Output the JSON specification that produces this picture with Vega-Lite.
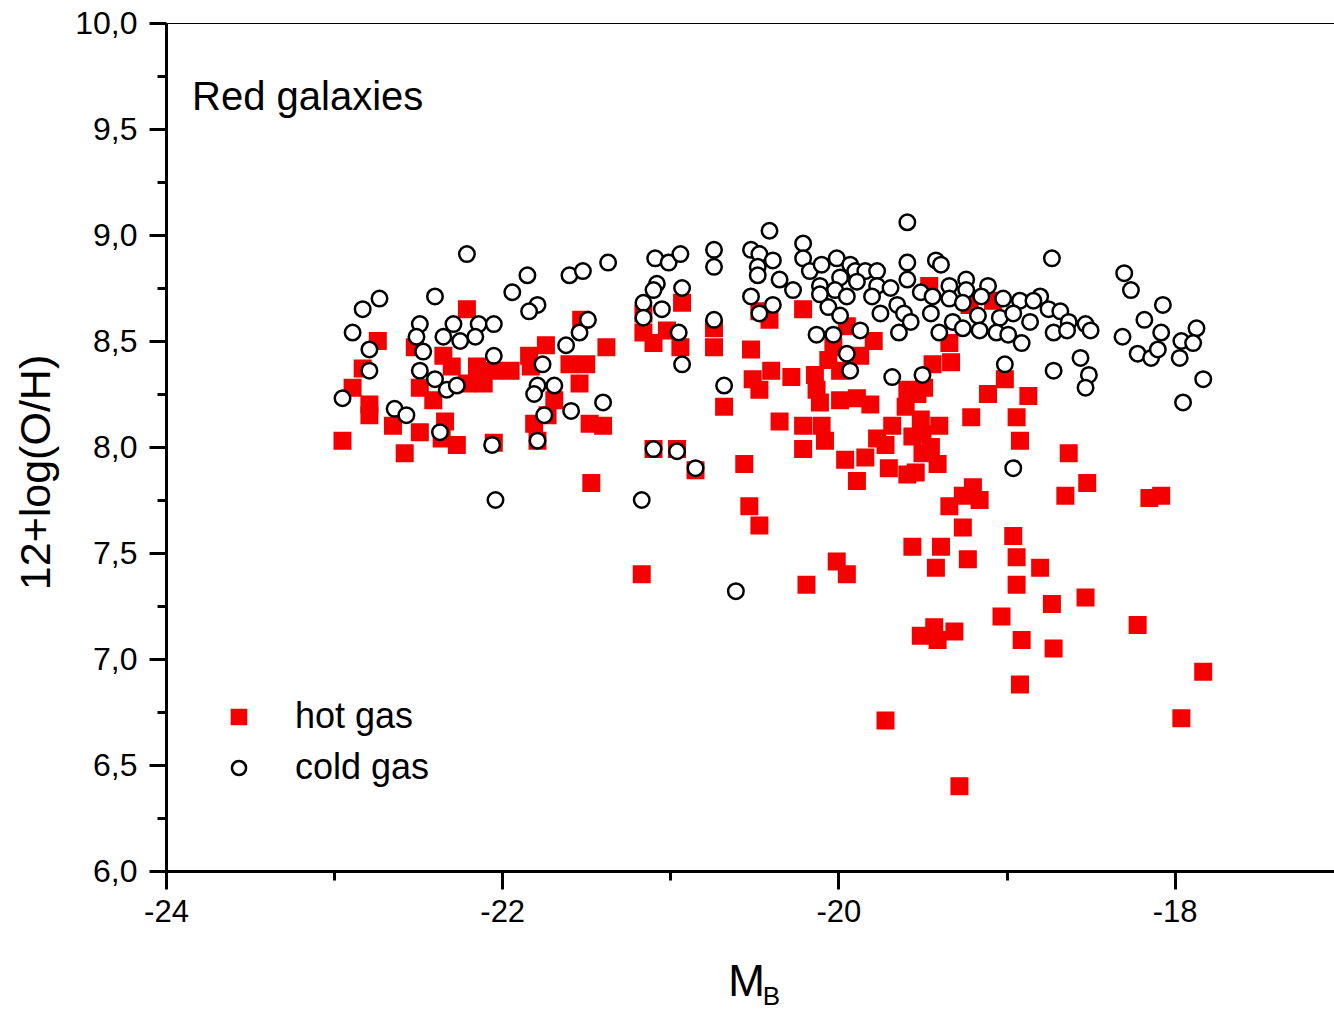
{
  "$schema": "https://vega.github.io/schema/vega-lite/v6.json",
  "width": 1168,
  "height": 848,
  "autosize": {"type": "none"},
  "padding": {"left": 166, "top": 23, "right": 0, "bottom": 140},
  "background": "white",
  "config": {
    "view": {"stroke": null},
    "font": "Liberation Sans",
    "axis": {
      "grid": false,
      "labelFont": "Liberation Sans",
      "titleFont": "Liberation Sans",
      "labelColor": "#000000",
      "titleColor": "#000000",
      "domainColor": "#000000",
      "tickColor": "#000000",
      "titleFontWeight": "normal",
      "labelFlush": false,
      "labelOverlap": false
    },
    "legend": {
      "labelFont": "Liberation Sans",
      "labelFontSize": 36,
      "labelColor": "#000000",
      "symbolSize": 200,
      "symbolStrokeWidth": 2.5,
      "rowPadding": 15,
      "labelOffset": 38,
      "padding": 0
    }
  },
  "layer": [
    {
      "data": {
        "values": [
          {"gas": "hot gas", "MB": -22.95, "OH": 8.03},
          {"gas": "hot gas", "MB": -22.89, "OH": 8.28},
          {"gas": "hot gas", "MB": -22.83, "OH": 8.37},
          {"gas": "hot gas", "MB": -22.74, "OH": 8.50},
          {"gas": "hot gas", "MB": -22.79, "OH": 8.20},
          {"gas": "hot gas", "MB": -22.79, "OH": 8.15},
          {"gas": "hot gas", "MB": -22.65, "OH": 8.10},
          {"gas": "hot gas", "MB": -22.58, "OH": 7.97},
          {"gas": "hot gas", "MB": -22.52, "OH": 8.47},
          {"gas": "hot gas", "MB": -22.49, "OH": 8.28},
          {"gas": "hot gas", "MB": -22.49, "OH": 8.07},
          {"gas": "hot gas", "MB": -22.41, "OH": 8.22},
          {"gas": "hot gas", "MB": -22.35, "OH": 8.43},
          {"gas": "hot gas", "MB": -22.30, "OH": 8.38},
          {"gas": "hot gas", "MB": -22.34, "OH": 8.12},
          {"gas": "hot gas", "MB": -22.27, "OH": 8.01},
          {"gas": "hot gas", "MB": -22.36, "OH": 8.04},
          {"gas": "hot gas", "MB": -22.21, "OH": 8.65},
          {"gas": "hot gas", "MB": -22.15, "OH": 8.38},
          {"gas": "hot gas", "MB": -22.11, "OH": 8.30},
          {"gas": "hot gas", "MB": -22.21, "OH": 8.30},
          {"gas": "hot gas", "MB": -22.05, "OH": 8.36},
          {"gas": "hot gas", "MB": -21.95, "OH": 8.36},
          {"gas": "hot gas", "MB": -22.05, "OH": 8.02},
          {"gas": "hot gas", "MB": -21.84, "OH": 8.43},
          {"gas": "hot gas", "MB": -21.81, "OH": 8.11},
          {"gas": "hot gas", "MB": -21.79, "OH": 8.03},
          {"gas": "hot gas", "MB": -21.83, "OH": 8.38},
          {"gas": "hot gas", "MB": -21.74, "OH": 8.48},
          {"gas": "hot gas", "MB": -21.53, "OH": 8.60},
          {"gas": "hot gas", "MB": -21.38, "OH": 8.47},
          {"gas": "hot gas", "MB": -21.60, "OH": 8.39},
          {"gas": "hot gas", "MB": -21.50, "OH": 8.39},
          {"gas": "hot gas", "MB": -21.54, "OH": 8.30},
          {"gas": "hot gas", "MB": -21.69, "OH": 8.22},
          {"gas": "hot gas", "MB": -21.73, "OH": 8.15},
          {"gas": "hot gas", "MB": -21.48, "OH": 8.11},
          {"gas": "hot gas", "MB": -21.40, "OH": 8.10},
          {"gas": "hot gas", "MB": -21.47, "OH": 7.83},
          {"gas": "hot gas", "MB": -21.16, "OH": 8.63},
          {"gas": "hot gas", "MB": -21.16, "OH": 8.54},
          {"gas": "hot gas", "MB": -21.10, "OH": 8.49},
          {"gas": "hot gas", "MB": -21.02, "OH": 8.55},
          {"gas": "hot gas", "MB": -20.93, "OH": 8.68},
          {"gas": "hot gas", "MB": -20.94, "OH": 8.47},
          {"gas": "hot gas", "MB": -20.74, "OH": 8.56},
          {"gas": "hot gas", "MB": -20.74, "OH": 8.47},
          {"gas": "hot gas", "MB": -21.10, "OH": 7.99},
          {"gas": "hot gas", "MB": -20.96, "OH": 7.99},
          {"gas": "hot gas", "MB": -20.85, "OH": 7.89},
          {"gas": "hot gas", "MB": -20.52, "OH": 8.46},
          {"gas": "hot gas", "MB": -20.51, "OH": 8.32},
          {"gas": "hot gas", "MB": -20.47, "OH": 8.27},
          {"gas": "hot gas", "MB": -20.68, "OH": 8.19},
          {"gas": "hot gas", "MB": -20.56, "OH": 7.92},
          {"gas": "hot gas", "MB": -20.47, "OH": 8.64},
          {"gas": "hot gas", "MB": -20.41, "OH": 8.60},
          {"gas": "hot gas", "MB": -21.17, "OH": 7.40},
          {"gas": "hot gas", "MB": -20.53, "OH": 7.72},
          {"gas": "hot gas", "MB": -20.47, "OH": 7.63},
          {"gas": "hot gas", "MB": -20.21, "OH": 8.65},
          {"gas": "hot gas", "MB": -20.40, "OH": 8.36},
          {"gas": "hot gas", "MB": -20.28, "OH": 8.33},
          {"gas": "hot gas", "MB": -20.14, "OH": 8.34},
          {"gas": "hot gas", "MB": -20.13, "OH": 8.27},
          {"gas": "hot gas", "MB": -20.11, "OH": 8.21},
          {"gas": "hot gas", "MB": -20.06, "OH": 8.41},
          {"gas": "hot gas", "MB": -19.99, "OH": 8.36},
          {"gas": "hot gas", "MB": -20.03, "OH": 8.47},
          {"gas": "hot gas", "MB": -19.95, "OH": 8.57},
          {"gas": "hot gas", "MB": -19.79, "OH": 8.50},
          {"gas": "hot gas", "MB": -19.87, "OH": 8.43},
          {"gas": "hot gas", "MB": -19.99, "OH": 8.22},
          {"gas": "hot gas", "MB": -19.89, "OH": 8.23},
          {"gas": "hot gas", "MB": -19.81, "OH": 8.20},
          {"gas": "hot gas", "MB": -20.35, "OH": 8.12},
          {"gas": "hot gas", "MB": -20.21, "OH": 8.10},
          {"gas": "hot gas", "MB": -20.10, "OH": 8.10},
          {"gas": "hot gas", "MB": -20.08, "OH": 8.03},
          {"gas": "hot gas", "MB": -20.21, "OH": 7.99},
          {"gas": "hot gas", "MB": -19.60, "OH": 8.19},
          {"gas": "hot gas", "MB": -19.59, "OH": 8.27},
          {"gas": "hot gas", "MB": -19.53, "OH": 8.25},
          {"gas": "hot gas", "MB": -19.44, "OH": 8.39},
          {"gas": "hot gas", "MB": -19.46, "OH": 8.76},
          {"gas": "hot gas", "MB": -19.34, "OH": 8.49},
          {"gas": "hot gas", "MB": -19.33, "OH": 8.40},
          {"gas": "hot gas", "MB": -19.01, "OH": 8.32},
          {"gas": "hot gas", "MB": -19.11, "OH": 8.25},
          {"gas": "hot gas", "MB": -18.87, "OH": 8.24},
          {"gas": "hot gas", "MB": -19.21, "OH": 8.14},
          {"gas": "hot gas", "MB": -18.94, "OH": 8.14},
          {"gas": "hot gas", "MB": -18.92, "OH": 8.03},
          {"gas": "hot gas", "MB": -19.49, "OH": 8.28},
          {"gas": "hot gas", "MB": -19.22, "OH": 8.67},
          {"gas": "hot gas", "MB": -19.08, "OH": 8.69},
          {"gas": "hot gas", "MB": -19.68, "OH": 8.10},
          {"gas": "hot gas", "MB": -19.77, "OH": 8.04},
          {"gas": "hot gas", "MB": -19.72, "OH": 8.01},
          {"gas": "hot gas", "MB": -19.84, "OH": 7.95},
          {"gas": "hot gas", "MB": -19.96, "OH": 7.94},
          {"gas": "hot gas", "MB": -19.89, "OH": 7.84},
          {"gas": "hot gas", "MB": -19.70, "OH": 7.90},
          {"gas": "hot gas", "MB": -19.59, "OH": 7.87},
          {"gas": "hot gas", "MB": -19.54, "OH": 7.88},
          {"gas": "hot gas", "MB": -19.56, "OH": 8.05},
          {"gas": "hot gas", "MB": -19.50, "OH": 8.06},
          {"gas": "hot gas", "MB": -19.45, "OH": 8.00},
          {"gas": "hot gas", "MB": -19.40, "OH": 8.10},
          {"gas": "hot gas", "MB": -19.50, "OH": 7.97},
          {"gas": "hot gas", "MB": -19.41, "OH": 7.92},
          {"gas": "hot gas", "MB": -19.51, "OH": 8.13},
          {"gas": "hot gas", "MB": -18.63, "OH": 7.97},
          {"gas": "hot gas", "MB": -18.52, "OH": 7.83},
          {"gas": "hot gas", "MB": -18.65, "OH": 7.77},
          {"gas": "hot gas", "MB": -19.20, "OH": 7.81},
          {"gas": "hot gas", "MB": -19.26, "OH": 7.77},
          {"gas": "hot gas", "MB": -19.16, "OH": 7.75},
          {"gas": "hot gas", "MB": -19.34, "OH": 7.72},
          {"gas": "hot gas", "MB": -19.26, "OH": 7.62},
          {"gas": "hot gas", "MB": -19.56, "OH": 7.53},
          {"gas": "hot gas", "MB": -19.39, "OH": 7.53},
          {"gas": "hot gas", "MB": -19.23, "OH": 7.47},
          {"gas": "hot gas", "MB": -19.42, "OH": 7.43},
          {"gas": "hot gas", "MB": -18.96, "OH": 7.58},
          {"gas": "hot gas", "MB": -18.94, "OH": 7.48},
          {"gas": "hot gas", "MB": -18.80, "OH": 7.43},
          {"gas": "hot gas", "MB": -18.94, "OH": 7.35},
          {"gas": "hot gas", "MB": -20.01, "OH": 7.46},
          {"gas": "hot gas", "MB": -19.95, "OH": 7.40},
          {"gas": "hot gas", "MB": -20.19, "OH": 7.35},
          {"gas": "hot gas", "MB": -18.73, "OH": 7.26},
          {"gas": "hot gas", "MB": -18.53, "OH": 7.29},
          {"gas": "hot gas", "MB": -19.03, "OH": 7.20},
          {"gas": "hot gas", "MB": -19.51, "OH": 7.11},
          {"gas": "hot gas", "MB": -19.43, "OH": 7.15},
          {"gas": "hot gas", "MB": -19.41, "OH": 7.09},
          {"gas": "hot gas", "MB": -19.31, "OH": 7.13},
          {"gas": "hot gas", "MB": -18.91, "OH": 7.09},
          {"gas": "hot gas", "MB": -18.72, "OH": 7.05},
          {"gas": "hot gas", "MB": -18.92, "OH": 6.88},
          {"gas": "hot gas", "MB": -19.72, "OH": 6.71},
          {"gas": "hot gas", "MB": -19.28, "OH": 6.40},
          {"gas": "hot gas", "MB": -18.15, "OH": 7.76},
          {"gas": "hot gas", "MB": -18.08, "OH": 7.77},
          {"gas": "hot gas", "MB": -18.22, "OH": 7.16},
          {"gas": "hot gas", "MB": -17.83, "OH": 6.94},
          {"gas": "hot gas", "MB": -17.96, "OH": 6.72},
          {"gas": "cold gas", "MB": -22.21, "OH": 8.91},
          {"gas": "cold gas", "MB": -21.85, "OH": 8.81},
          {"gas": "cold gas", "MB": -21.94, "OH": 8.73},
          {"gas": "cold gas", "MB": -21.79, "OH": 8.67},
          {"gas": "cold gas", "MB": -21.84, "OH": 8.64},
          {"gas": "cold gas", "MB": -22.73, "OH": 8.70},
          {"gas": "cold gas", "MB": -22.83, "OH": 8.65},
          {"gas": "cold gas", "MB": -22.40, "OH": 8.71},
          {"gas": "cold gas", "MB": -22.89, "OH": 8.54},
          {"gas": "cold gas", "MB": -22.79, "OH": 8.46},
          {"gas": "cold gas", "MB": -22.79, "OH": 8.36},
          {"gas": "cold gas", "MB": -22.95, "OH": 8.23},
          {"gas": "cold gas", "MB": -22.49, "OH": 8.58},
          {"gas": "cold gas", "MB": -22.51, "OH": 8.52},
          {"gas": "cold gas", "MB": -22.29, "OH": 8.58},
          {"gas": "cold gas", "MB": -22.14, "OH": 8.58},
          {"gas": "cold gas", "MB": -22.05, "OH": 8.58},
          {"gas": "cold gas", "MB": -22.35, "OH": 8.52},
          {"gas": "cold gas", "MB": -22.25, "OH": 8.50},
          {"gas": "cold gas", "MB": -22.16, "OH": 8.52},
          {"gas": "cold gas", "MB": -22.47, "OH": 8.45},
          {"gas": "cold gas", "MB": -22.49, "OH": 8.36},
          {"gas": "cold gas", "MB": -22.40, "OH": 8.32},
          {"gas": "cold gas", "MB": -22.33, "OH": 8.27},
          {"gas": "cold gas", "MB": -22.27, "OH": 8.29},
          {"gas": "cold gas", "MB": -22.05, "OH": 8.43},
          {"gas": "cold gas", "MB": -21.76, "OH": 8.39},
          {"gas": "cold gas", "MB": -21.79, "OH": 8.29},
          {"gas": "cold gas", "MB": -21.81, "OH": 8.25},
          {"gas": "cold gas", "MB": -22.64, "OH": 8.18},
          {"gas": "cold gas", "MB": -22.57, "OH": 8.15},
          {"gas": "cold gas", "MB": -22.37, "OH": 8.07},
          {"gas": "cold gas", "MB": -22.06, "OH": 8.01},
          {"gas": "cold gas", "MB": -21.79, "OH": 8.03},
          {"gas": "cold gas", "MB": -21.75, "OH": 8.15},
          {"gas": "cold gas", "MB": -22.04, "OH": 7.75},
          {"gas": "cold gas", "MB": -21.69, "OH": 8.29},
          {"gas": "cold gas", "MB": -21.62, "OH": 8.48},
          {"gas": "cold gas", "MB": -21.54, "OH": 8.54},
          {"gas": "cold gas", "MB": -21.49, "OH": 8.60},
          {"gas": "cold gas", "MB": -21.59, "OH": 8.17},
          {"gas": "cold gas", "MB": -21.40, "OH": 8.21},
          {"gas": "cold gas", "MB": -21.60, "OH": 8.81},
          {"gas": "cold gas", "MB": -21.52, "OH": 8.83},
          {"gas": "cold gas", "MB": -21.37, "OH": 8.87},
          {"gas": "cold gas", "MB": -21.09, "OH": 8.89},
          {"gas": "cold gas", "MB": -21.01, "OH": 8.87},
          {"gas": "cold gas", "MB": -20.94, "OH": 8.91},
          {"gas": "cold gas", "MB": -20.74, "OH": 8.93},
          {"gas": "cold gas", "MB": -20.74, "OH": 8.85},
          {"gas": "cold gas", "MB": -21.08, "OH": 8.77},
          {"gas": "cold gas", "MB": -21.10, "OH": 8.74},
          {"gas": "cold gas", "MB": -21.16, "OH": 8.68},
          {"gas": "cold gas", "MB": -21.05, "OH": 8.65},
          {"gas": "cold gas", "MB": -21.16, "OH": 8.61},
          {"gas": "cold gas", "MB": -20.93, "OH": 8.75},
          {"gas": "cold gas", "MB": -20.95, "OH": 8.54},
          {"gas": "cold gas", "MB": -20.93, "OH": 8.39},
          {"gas": "cold gas", "MB": -20.74, "OH": 8.60},
          {"gas": "cold gas", "MB": -20.68, "OH": 8.29},
          {"gas": "cold gas", "MB": -21.10, "OH": 7.99},
          {"gas": "cold gas", "MB": -20.96, "OH": 7.98},
          {"gas": "cold gas", "MB": -20.85, "OH": 7.90},
          {"gas": "cold gas", "MB": -21.17, "OH": 7.75},
          {"gas": "cold gas", "MB": -20.61, "OH": 7.32},
          {"gas": "cold gas", "MB": -20.41, "OH": 9.02},
          {"gas": "cold gas", "MB": -19.59, "OH": 9.06},
          {"gas": "cold gas", "MB": -20.52, "OH": 8.93},
          {"gas": "cold gas", "MB": -20.47, "OH": 8.91},
          {"gas": "cold gas", "MB": -20.39, "OH": 8.88},
          {"gas": "cold gas", "MB": -20.48, "OH": 8.85},
          {"gas": "cold gas", "MB": -20.48, "OH": 8.81},
          {"gas": "cold gas", "MB": -20.21, "OH": 8.96},
          {"gas": "cold gas", "MB": -20.21, "OH": 8.89},
          {"gas": "cold gas", "MB": -20.17, "OH": 8.83},
          {"gas": "cold gas", "MB": -20.10, "OH": 8.86},
          {"gas": "cold gas", "MB": -20.01, "OH": 8.89},
          {"gas": "cold gas", "MB": -19.93, "OH": 8.86},
          {"gas": "cold gas", "MB": -19.99, "OH": 8.80},
          {"gas": "cold gas", "MB": -19.90, "OH": 8.83},
          {"gas": "cold gas", "MB": -19.84, "OH": 8.83},
          {"gas": "cold gas", "MB": -19.77, "OH": 8.83},
          {"gas": "cold gas", "MB": -20.35, "OH": 8.79},
          {"gas": "cold gas", "MB": -20.27, "OH": 8.74},
          {"gas": "cold gas", "MB": -20.11, "OH": 8.76},
          {"gas": "cold gas", "MB": -20.02, "OH": 8.74},
          {"gas": "cold gas", "MB": -19.89, "OH": 8.78},
          {"gas": "cold gas", "MB": -19.77, "OH": 8.76},
          {"gas": "cold gas", "MB": -19.69, "OH": 8.75},
          {"gas": "cold gas", "MB": -19.59, "OH": 8.87},
          {"gas": "cold gas", "MB": -19.59, "OH": 8.79},
          {"gas": "cold gas", "MB": -19.51, "OH": 8.73},
          {"gas": "cold gas", "MB": -20.52, "OH": 8.71},
          {"gas": "cold gas", "MB": -20.39, "OH": 8.67},
          {"gas": "cold gas", "MB": -20.47, "OH": 8.63},
          {"gas": "cold gas", "MB": -20.11, "OH": 8.72},
          {"gas": "cold gas", "MB": -19.95, "OH": 8.71},
          {"gas": "cold gas", "MB": -19.80, "OH": 8.71},
          {"gas": "cold gas", "MB": -20.06, "OH": 8.66},
          {"gas": "cold gas", "MB": -19.99, "OH": 8.62},
          {"gas": "cold gas", "MB": -19.75, "OH": 8.63},
          {"gas": "cold gas", "MB": -19.65, "OH": 8.67},
          {"gas": "cold gas", "MB": -19.61, "OH": 8.63},
          {"gas": "cold gas", "MB": -19.57, "OH": 8.59},
          {"gas": "cold gas", "MB": -19.64, "OH": 8.54},
          {"gas": "cold gas", "MB": -20.13, "OH": 8.53},
          {"gas": "cold gas", "MB": -20.03, "OH": 8.53},
          {"gas": "cold gas", "MB": -19.87, "OH": 8.55},
          {"gas": "cold gas", "MB": -19.95, "OH": 8.44},
          {"gas": "cold gas", "MB": -19.93, "OH": 8.36},
          {"gas": "cold gas", "MB": -19.68, "OH": 8.33},
          {"gas": "cold gas", "MB": -19.50, "OH": 8.34},
          {"gas": "cold gas", "MB": -19.42, "OH": 8.88},
          {"gas": "cold gas", "MB": -19.39, "OH": 8.86},
          {"gas": "cold gas", "MB": -18.73, "OH": 8.89},
          {"gas": "cold gas", "MB": -19.34, "OH": 8.76},
          {"gas": "cold gas", "MB": -19.24, "OH": 8.79},
          {"gas": "cold gas", "MB": -19.24, "OH": 8.74},
          {"gas": "cold gas", "MB": -19.11, "OH": 8.76},
          {"gas": "cold gas", "MB": -19.44, "OH": 8.71},
          {"gas": "cold gas", "MB": -19.34, "OH": 8.70},
          {"gas": "cold gas", "MB": -19.15, "OH": 8.71},
          {"gas": "cold gas", "MB": -19.02, "OH": 8.70},
          {"gas": "cold gas", "MB": -18.92, "OH": 8.69},
          {"gas": "cold gas", "MB": -18.80, "OH": 8.71},
          {"gas": "cold gas", "MB": -18.84, "OH": 8.69},
          {"gas": "cold gas", "MB": -19.45, "OH": 8.63},
          {"gas": "cold gas", "MB": -19.32, "OH": 8.59},
          {"gas": "cold gas", "MB": -19.26, "OH": 8.68},
          {"gas": "cold gas", "MB": -19.17, "OH": 8.62},
          {"gas": "cold gas", "MB": -19.04, "OH": 8.61},
          {"gas": "cold gas", "MB": -18.96, "OH": 8.63},
          {"gas": "cold gas", "MB": -18.86, "OH": 8.59},
          {"gas": "cold gas", "MB": -18.75, "OH": 8.65},
          {"gas": "cold gas", "MB": -18.68, "OH": 8.64},
          {"gas": "cold gas", "MB": -18.63, "OH": 8.59},
          {"gas": "cold gas", "MB": -18.53, "OH": 8.58},
          {"gas": "cold gas", "MB": -18.50, "OH": 8.55},
          {"gas": "cold gas", "MB": -18.72, "OH": 8.54},
          {"gas": "cold gas", "MB": -18.64, "OH": 8.55},
          {"gas": "cold gas", "MB": -19.40, "OH": 8.54},
          {"gas": "cold gas", "MB": -19.26, "OH": 8.56},
          {"gas": "cold gas", "MB": -19.16, "OH": 8.55},
          {"gas": "cold gas", "MB": -19.06, "OH": 8.54},
          {"gas": "cold gas", "MB": -18.99, "OH": 8.53},
          {"gas": "cold gas", "MB": -18.91, "OH": 8.49},
          {"gas": "cold gas", "MB": -19.01, "OH": 8.39},
          {"gas": "cold gas", "MB": -18.72, "OH": 8.36},
          {"gas": "cold gas", "MB": -18.56, "OH": 8.42},
          {"gas": "cold gas", "MB": -18.51, "OH": 8.34},
          {"gas": "cold gas", "MB": -18.53, "OH": 8.28},
          {"gas": "cold gas", "MB": -18.96, "OH": 7.90},
          {"gas": "cold gas", "MB": -18.30, "OH": 8.82},
          {"gas": "cold gas", "MB": -18.26, "OH": 8.74},
          {"gas": "cold gas", "MB": -18.07, "OH": 8.67},
          {"gas": "cold gas", "MB": -18.18, "OH": 8.60},
          {"gas": "cold gas", "MB": -18.08, "OH": 8.54},
          {"gas": "cold gas", "MB": -18.31, "OH": 8.52},
          {"gas": "cold gas", "MB": -18.22, "OH": 8.44},
          {"gas": "cold gas", "MB": -18.14, "OH": 8.42},
          {"gas": "cold gas", "MB": -18.10, "OH": 8.46},
          {"gas": "cold gas", "MB": -17.96, "OH": 8.50},
          {"gas": "cold gas", "MB": -17.87, "OH": 8.56},
          {"gas": "cold gas", "MB": -17.89, "OH": 8.49},
          {"gas": "cold gas", "MB": -17.97, "OH": 8.42},
          {"gas": "cold gas", "MB": -17.83, "OH": 8.32},
          {"gas": "cold gas", "MB": -17.95, "OH": 8.21}
        ]
      },
      "mark": {"type": "point", "size": 240, "strokeWidth": 2.5, "opacity": 1, "fillOpacity": 1, "strokeOpacity": 1},
      "encoding": {
        "x": {
          "field": "MB", "type": "quantitative",
          "scale": {"domain": [-24, -17.052], "nice": false, "zero": false},
          "axis": {
            "orient": "bottom",
            "values": [-24, -22, -20, -18],
            "labelExpr": "'' + datum.value",
            "labelFontSize": 31,
            "labelPadding": 8,
            "tickSize": 18,
            "tickWidth": 3,
            "domainWidth": 3,
            "title": "M",
            "titleFontSize": 44,
            "titleX": 580,
            "titleY": 124,
            "titleAlign": "center",
            "titleBaseline": "alphabetic"
          }
        },
        "y": {
          "field": "OH", "type": "quantitative",
          "scale": {"domain": [6, 10], "nice": false, "zero": false},
          "axis": {
            "orient": "left",
            "values": [6, 6.5, 7, 7.5, 8, 8.5, 9, 9.5, 10],
            "labelExpr": "replace(format(datum.value, '.1f'), '.', ',')",
            "labelFontSize": 32,
            "labelPadding": 12,
            "tickSize": 17,
            "tickWidth": 3,
            "domainWidth": 3,
            "title": "12+log(O/H)",
            "titleFontSize": 43,
            "titleX": -130,
            "titleY": 449,
            "titleAngle": -90,
            "titleAlign": "center",
            "titleBaseline": "middle"
          }
        },
        "shape": {
          "field": "gas", "type": "nominal",
          "scale": {"domain": ["hot gas", "cold gas"], "range": ["square", "circle"]},
          "legend": {"title": null, "orient": "none", "legendX": 55, "legendY": 676}
        },
        "fill": {
          "field": "gas", "type": "nominal",
          "scale": {"domain": ["hot gas", "cold gas"], "range": ["#f40000", "#ffffff"]},
          "legend": {"title": null, "orient": "none", "legendX": 55, "legendY": 676}
        },
        "stroke": {
          "field": "gas", "type": "nominal",
          "scale": {"domain": ["hot gas", "cold gas"], "range": ["#f40000", "#000000"]},
          "legend": {"title": null, "orient": "none", "legendX": 55, "legendY": 676}
        }
      }
    },
    {
      "data": {"values": [{}]},
      "mark": {"type": "text", "align": "left", "baseline": "alphabetic", "fontSize": 40, "font": "Liberation Sans", "color": "#000000"},
      "encoding": {
        "text": {"value": "Red galaxies"},
        "x": {
          "datum": -23.845, "type": "quantitative",
          "axis": {"orient": "bottom", "values": [-23, -21, -19], "tickSize": 9, "tickWidth": 3, "labels": false, "domain": false, "title": null}
        },
        "y": {
          "datum": 9.59, "type": "quantitative",
          "axis": {"orient": "left", "values": [6.25, 6.75, 7.25, 7.75, 8.25, 8.75, 9.25, 9.75], "tickSize": 9, "tickWidth": 3, "labels": false, "domain": false, "title": null}
        }
      }
    },
    {
      "data": {"values": [{}]},
      "mark": {"type": "text", "align": "left", "baseline": "alphabetic", "fontSize": 26, "font": "Liberation Sans", "color": "#000000"},
      "encoding": {
        "text": {"value": "B"},
        "x": {
          "datum": -20.45, "type": "quantitative",
          "axis": {"orient": "top", "domain": true, "domainWidth": 1.2, "ticks": false, "labels": false, "title": null}
        },
        "y": {"datum": 5.37, "type": "quantitative", "axis": null}
      }
    }
  ],
  "resolve": {"axis": {"x": "independent", "y": "independent"}}
}
